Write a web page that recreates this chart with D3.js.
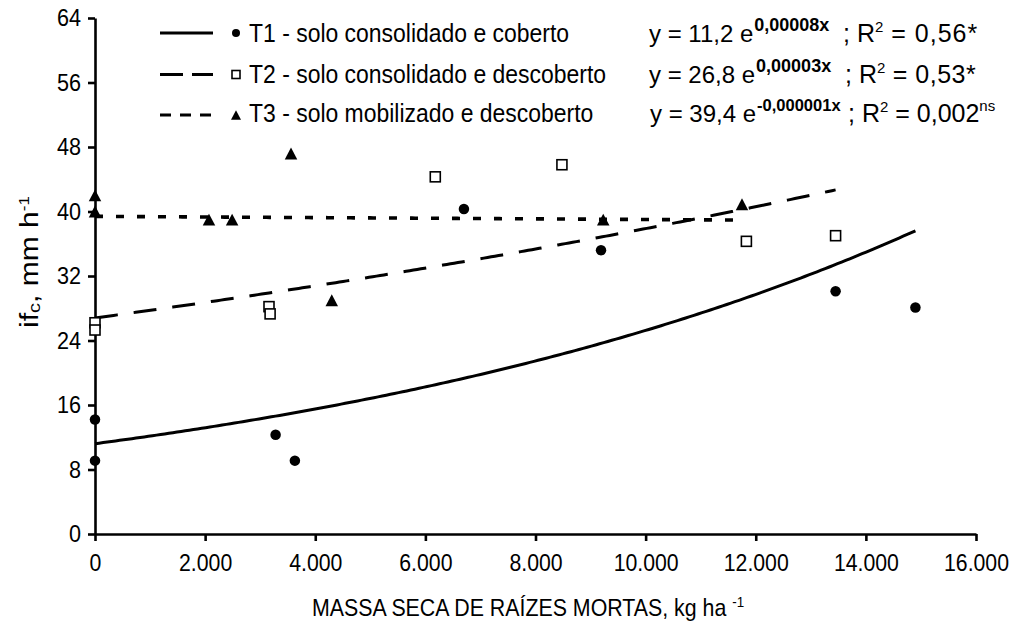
<!DOCTYPE html>
<html>
<head>
<meta charset="utf-8">
<script src="https://cdn.jsdelivr.net/npm/d3@7"></script>
<style>
  html, body { margin: 0; padding: 0; background: #fff; }
  svg { display: block; font-family: "Liberation Sans", Arial, sans-serif; }
</style>
</head>
<body>
<svg id="chart" width="1015" height="623"></svg>
<script>
// Observed infiltration rate (ifc) against dry mass of dead roots, per treatment
const t1X = [0, 0, 3280, 3630, 6700, 9190, 13450, 14900];
const t1Y = [9.1, 14.2, 12.3, 9.1, 40.3, 35.2, 30.1, 28.1];
const t2X = [0, 0, 3160, 3180, 6180, 8480, 11830, 13450];
const t2Y = [26.2, 25.3, 28.2, 27.3, 44.3, 45.8, 36.3, 37.0];
const t3X = [0, 0, 2070, 2490, 3560, 4300, 9230, 11750];
const t3Y = [42.0, 40.0, 39.0, 39.0, 47.2, 29.0, 39.0, 40.9];

// Exponential fits y = a * e^(b x)
const fitA = [11.2, 26.8, 39.4];
const fitB = [0.0000813, 0.0000346, -0.000001];

const seriesNames = [
  "T1 - solo consolidado e coberto",
  "T2 - solo consolidado e descoberto",
  "T3 - solo mobilizado e descoberto"
];
const eqIntercepts = ["11,2", "26,8", "39,4"];
const eqExponents = ["0,00008x", "0,00003x", "-0,000001x"];
const eqR2 = ["0,56", "0,53", "0,002"];
const eqSig = ["*", "*", "ns"];

const xTicks = [0, 2000, 4000, 6000, 8000, 10000, 12000, 14000, 16000];
const yTicks = [0, 8, 16, 24, 32, 40, 48, 56, 64];

const SX = 0.9; // narrow text proportion used throughout

const svg = d3.select("#chart");
const x = d3.scaleLinear().domain([0, 16000]).range([95, 976]);
const y = d3.scaleLinear().domain([0, 64]).range([534, 18]);

const ptBR = d3.formatLocale({ decimal: ",", thousands: ".", grouping: [3], currency: ["", ""] });
const fmtX = ptBR.format(",");

// Axes
const yAxis = svg.append("g")
  .attr("transform", `translate(${x(0)},0)`)
  .call(d3.axisLeft(y).tickValues(yTicks).tickSize(7).tickSizeOuter(0).tickPadding(7).tickFormat(d3.format("d")));
const xAxis = svg.append("g")
  .attr("transform", `translate(0,${y(0)})`)
  .call(d3.axisBottom(x).tickValues(xTicks).tickSize(7).tickSizeOuter(0).tickPadding(13).tickFormat(fmtX));

[yAxis, xAxis].forEach(g => {
  g.select(".domain").attr("stroke", "#000").attr("stroke-width", 2.6);
  g.selectAll(".tick line").attr("stroke", "#000").attr("stroke-width", 2.6);
  g.selectAll(".tick text").attr("fill", "#000")
    .attr("font-family", "Liberation Sans, Arial, sans-serif")
    .attr("font-size", 24);
});
yAxis.selectAll(".tick text")
  .attr("x", 0)
  .attr("transform", `translate(-14,0) scale(${SX},1)`);
xAxis.selectAll(".tick text")
  .attr("transform", `scale(0.885,1)`);

// Trend curves
const series = [
  { xs: t1X, ys: t1Y, dash: null, legendDash: null },
  { xs: t2X, ys: t2Y, dash: "23,16", legendDash: "23,9" },
  { xs: t3X, ys: t3Y, dash: "8,13", legendDash: "11,9" }
];
const line = d3.line().x(d => x(d[0])).y(d => y(d[1]));
series.forEach((s, i) => {
  const xMax = d3.max(s.xs);
  const pts = d3.range(0, 201).map(k => {
    const xv = xMax * k / 200;
    return [xv, fitA[i] * Math.exp(fitB[i] * xv)];
  });
  svg.append("path")
    .attr("d", line(pts))
    .attr("fill", "none")
    .attr("stroke", "#000")
    .attr("stroke-width", i === 2 ? 3.6 : 3)
    .attr("stroke-dasharray", s.dash);
});

// Markers
function drawMarker(g, type, cx, cy, size) {
  if (type === 0) {
    g.append("circle").attr("cx", cx).attr("cy", cy).attr("r", size / 2).attr("fill", "#000");
  } else if (type === 1) {
    g.append("rect").attr("x", cx - size / 2).attr("y", cy - size / 2)
      .attr("width", size).attr("height", size)
      .attr("fill", "#fff").attr("stroke", "#000").attr("stroke-width", 1.6);
  } else {
    const h = size * 0.95;
    g.append("path")
      .attr("d", `M${cx},${cy - h / 2}L${cx + size / 2},${cy + h / 2}L${cx - size / 2},${cy + h / 2}Z`)
      .attr("fill", "#000");
  }
}
const markG = svg.append("g");
series.forEach((s, i) => {
  s.xs.forEach((xv, j) => {
    drawMarker(markG, i, x(xv), y(s.ys[j]), i === 0 ? 10.5 : (i === 1 ? 10 : 12.5));
  });
});

// Legend
const rowBase = [41.5, 82.5, 122];
const rowLine = [33, 74.5, 115];
const legend = svg.append("g");
series.forEach((s, i) => {
  legend.append("line")
    .attr("x1", 160).attr("x2", 213).attr("y1", rowLine[i]).attr("y2", rowLine[i])
    .attr("stroke", "#000").attr("stroke-width", 3)
    .attr("stroke-dasharray", s.legendDash);
  drawMarker(legend, i, 236, rowLine[i], i === 0 ? 8 : (i === 1 ? 8 : 10));
  legend.append("text")
    .attr("transform", `translate(249,${rowBase[i]}) scale(${SX},1)`)
    .attr("font-size", 25.5)
    .text(seriesNames[i]);
});

// Fitted equations: "y = a e^(bx)" then "; R² = value"
const eqStart = [649, 649, 650];
const eqSemi = [843, 845, 848];
const eqSpread = [1, 0.5, 0];
const eqG = svg.append("g").attr("font-size", 24);
series.forEach((s, i) => {
  const t = eqG.append("text").attr("x", eqStart[i]).attr("y", rowBase[i]);
  t.append("tspan").text(`y = ${eqIntercepts[i]} e`);
  t.append("tspan").attr("dx", 1).attr("dy", -11)
    .attr("font-size", i === 2 ? 16.5 : 18).attr("font-weight", "bold")
    .text(eqExponents[i]);

  const r = eqG.append("text").attr("x", eqSemi[i]).attr("y", rowBase[i]).attr("font-size", 25);
  r.append("tspan").text("; R");
  r.append("tspan").attr("dy", -10).attr("font-size", 15).text("2");
  r.append("tspan").attr("dy", 10).attr("letter-spacing", eqSpread[i])
    .text(` = ${eqR2[i]}${eqSig[i] === "ns" ? "" : eqSig[i]}`);
  if (eqSig[i] === "ns") {
    r.append("tspan").attr("dy", -11).attr("font-size", 15).text(eqSig[i]);
  }
});

// Axis titles
const yTitle = svg.append("text")
  .attr("transform", "translate(38,262) rotate(-90) scale(1,0.85)")
  .attr("text-anchor", "middle")
  .attr("font-size", 30);
yTitle.append("tspan").text("if");
yTitle.append("tspan").attr("font-size", 20).attr("dy", 2).text("c");
yTitle.append("tspan").attr("dy", -2).text(", mm h");
yTitle.append("tspan").attr("font-size", 17).attr("dy", -11).text("-1");

const xTitle = svg.append("text")
  .attr("transform", `translate(528,616) scale(0.89,1)`)
  .attr("text-anchor", "middle")
  .attr("font-size", 24);
xTitle.append("tspan").text("MASSA SECA DE RAÍZES MORTAS, kg ha ");
xTitle.append("tspan").attr("font-size", 15).attr("dy", -9).text("-1");
</script>
</body>
</html>
